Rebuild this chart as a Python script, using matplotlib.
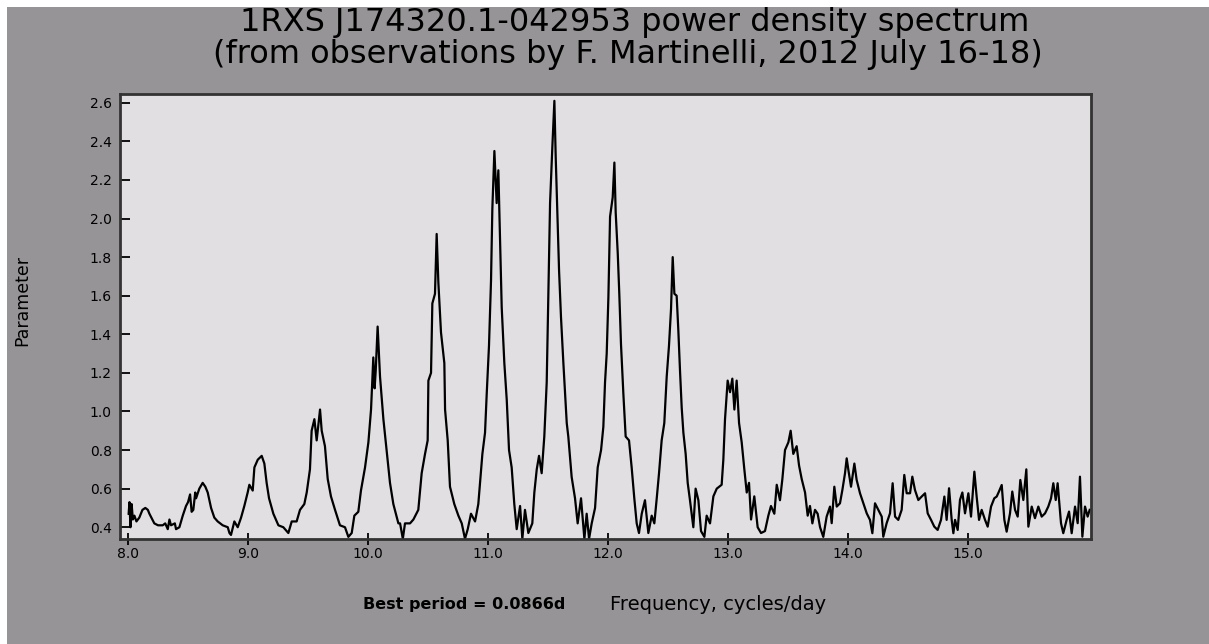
import matplotlib
matplotlib.use("Agg")
import matplotlib.pyplot as plt
from matplotlib.patches import Rectangle

# power spectrum, split by frequency band (freq, power)
band_8_9 = [
    (8.005, 0.47), (8.012, 0.53), (8.020, 0.40), (8.030, 0.52), (8.040, 0.44),
    (8.053, 0.46), (8.070, 0.43), (8.094, 0.45), (8.120, 0.49), (8.144, 0.50),
    (8.165, 0.49), (8.178, 0.47), (8.219, 0.42), (8.250, 0.41), (8.289, 0.41),
    (8.310, 0.42), (8.331, 0.39), (8.345, 0.44), (8.358, 0.41), (8.390, 0.42),
    (8.400, 0.39), (8.428, 0.40), (8.456, 0.46), (8.483, 0.51), (8.500, 0.53),
    (8.517, 0.57), (8.530, 0.48), (8.544, 0.49), (8.560, 0.58), (8.567, 0.55),
    (8.594, 0.60), (8.622, 0.63), (8.644, 0.61), (8.664, 0.58), (8.692, 0.50),
    (8.719, 0.45), (8.747, 0.43), (8.789, 0.41), (8.831, 0.40), (8.845, 0.37),
    (8.858, 0.36), (8.886, 0.43), (8.914, 0.40), (8.942, 0.45), (8.969, 0.51),
    (8.997, 0.58), (9.011, 0.62), (9.039, 0.59), (9.053, 0.71), (9.081, 0.75),
]
band_9_10 = [
    (9.114, 0.77), (9.136, 0.73), (9.155, 0.63), (9.175, 0.55), (9.211, 0.47),
    (9.253, 0.41), (9.294, 0.40), (9.336, 0.37), (9.364, 0.43), (9.405, 0.43),
    (9.433, 0.49), (9.469, 0.52), (9.489, 0.58), (9.516, 0.70), (9.530, 0.90),
    (9.553, 0.96), (9.572, 0.85), (9.600, 1.01), (9.614, 0.90), (9.641, 0.82),
    (9.664, 0.65), (9.691, 0.56), (9.725, 0.49), (9.766, 0.41), (9.808, 0.40),
    (9.836, 0.35), (9.864, 0.37), (9.886, 0.46), (9.919, 0.48), (9.941, 0.59),
    (9.975, 0.71), (10.003, 0.84), (10.025, 1.01), (10.044, 1.28), (10.055, 1.12),
    (10.064, 1.21), (10.080, 1.44), (10.100, 1.18), (10.128, 0.96), (10.155, 0.80),
    (10.183, 0.63), (10.211, 0.52),
]
band_10_11 = [
    (10.253, 0.42), (10.267, 0.42), (10.290, 0.34), (10.308, 0.42), (10.350, 0.42),
    (10.378, 0.44), (10.419, 0.49), (10.447, 0.68), (10.475, 0.78), (10.497, 0.85),
    (10.503, 1.16), (10.525, 1.20), (10.536, 1.56), (10.558, 1.61), (10.572, 1.92),
    (10.586, 1.67), (10.608, 1.41), (10.636, 1.25), (10.642, 1.01), (10.664, 0.85),
    (10.683, 0.61), (10.719, 0.52), (10.753, 0.46), (10.781, 0.42), (10.808, 0.34),
    (10.831, 0.39), (10.858, 0.47), (10.892, 0.43), (10.919, 0.52), (10.953, 0.78),
    (10.975, 0.89), (10.989, 1.09), (11.008, 1.34), (11.025, 1.68), (11.036, 2.05),
    (11.053, 2.35), (11.072, 2.08), (11.086, 2.25), (11.100, 1.89), (11.114, 1.54),
    (11.136, 1.25), (11.156, 1.06), (11.175, 0.80), (11.197, 0.71), (11.219, 0.52),
    (11.239, 0.39), (11.267, 0.51), (11.286, 0.34), (11.308, 0.49), (11.336, 0.37),
    (11.369, 0.42), (11.386, 0.58), (11.406, 0.70), (11.425, 0.77),
]
band_11_12 = [
    (11.447, 0.68), (11.469, 0.87), (11.489, 1.15), (11.503, 1.61), (11.517, 2.08),
    (11.536, 2.37), (11.553, 2.61), (11.564, 2.32), (11.581, 1.96), (11.592, 1.73),
    (11.608, 1.49), (11.628, 1.25), (11.656, 0.94), (11.669, 0.87), (11.697, 0.66),
    (11.725, 0.55), (11.747, 0.42), (11.775, 0.55), (11.803, 0.34), (11.822, 0.47),
    (11.842, 0.34), (11.864, 0.42), (11.892, 0.50), (11.914, 0.71), (11.942, 0.80),
    (11.961, 0.92), (11.975, 1.15), (11.989, 1.30), (12.003, 1.59), (12.017, 2.01),
    (12.039, 2.11), (12.053, 2.29), (12.064, 2.03), (12.081, 1.82), (12.094, 1.61),
    (12.108, 1.35), (12.128, 1.09), (12.147, 0.87), (12.175, 0.85), (12.197, 0.71),
    (12.219, 0.55), (12.239, 0.42), (12.258, 0.37), (12.281, 0.47), (12.308, 0.54),
    (12.336, 0.37), (12.364, 0.46), (12.386, 0.42), (12.406, 0.55), (12.425, 0.68),
    (12.447, 0.85), (12.469, 0.94), (12.489, 1.18), (12.508, 1.34), (12.525, 1.53),
    (12.539, 1.80), (12.553, 1.61),
]
band_12_14 = [
    (12.572, 1.60), (12.586, 1.42), (12.600, 1.21), (12.614, 1.02), (12.628, 0.89),
    (12.647, 0.78), (12.664, 0.63), (12.683, 0.54), (12.711, 0.40), (12.730, 0.60),
    (12.753, 0.54), (12.775, 0.38), (12.803, 0.35), (12.822, 0.46), (12.850, 0.42),
    (12.878, 0.56), (12.906, 0.60), (12.947, 0.62), (12.961, 0.75), (12.975, 0.96),
    (12.997, 1.16), (13.017, 1.10), (13.036, 1.17), (13.053, 1.01), (13.072, 1.16),
    (13.092, 0.94), (13.114, 0.84), (13.136, 0.70), (13.156, 0.58), (13.175, 0.63),
    (13.192, 0.44), (13.219, 0.56), (13.247, 0.40), (13.275, 0.37), (13.308, 0.38),
    (13.336, 0.46), (13.358, 0.51), (13.386, 0.47), (13.406, 0.62), (13.433, 0.54),
    (13.453, 0.65), (13.475, 0.80), (13.503, 0.84), (13.522, 0.90), (13.544, 0.78),
    (13.572, 0.82), (13.592, 0.72), (13.614, 0.65), (13.642, 0.58), (13.664, 0.46),
    (13.683, 0.51), (13.703, 0.42), (13.725, 0.49),
]
band_14_15 = [
    (13.747, 0.47), (13.767, 0.40), (13.794, 0.35), (13.822, 0.455), (13.850, 0.507),
    (13.864, 0.421), (13.886, 0.61), (13.906, 0.507), (13.933, 0.524), (13.953, 0.593),
    (13.975, 0.68), (13.989, 0.757), (14.003, 0.697), (14.025, 0.61), (14.053, 0.73),
    (14.072, 0.645), (14.100, 0.576), (14.128, 0.524), (14.156, 0.472), (14.183, 0.438),
    (14.203, 0.369), (14.225, 0.524), (14.253, 0.49), (14.281, 0.455), (14.294, 0.351),
    (14.322, 0.421), (14.350, 0.472), (14.372, 0.628), (14.392, 0.455), (14.419, 0.438),
    (14.447, 0.49), (14.469, 0.671), (14.489, 0.576), (14.517, 0.576), (14.536, 0.662),
    (14.558, 0.593), (14.586, 0.541), (14.614, 0.559), (14.642, 0.576), (14.664, 0.472),
    (14.692, 0.438), (14.719, 0.403), (14.747, 0.386), (14.775, 0.438), (14.803, 0.559),
    (14.822, 0.438), (14.842, 0.602), (14.864, 0.438), (14.878, 0.369), (14.892, 0.438),
    (14.914, 0.386), (14.933, 0.541),
]
band_15_16 = [
    (14.953, 0.58), (14.975, 0.472), (15.003, 0.576), (15.025, 0.455), (15.053, 0.688),
    (15.072, 0.559), (15.092, 0.438), (15.114, 0.49), (15.142, 0.438), (15.164, 0.403),
    (15.192, 0.507), (15.219, 0.55), (15.239, 0.559), (15.258, 0.585), (15.281, 0.619),
    (15.303, 0.438), (15.322, 0.377), (15.350, 0.472), (15.369, 0.585), (15.392, 0.49),
    (15.414, 0.455), (15.436, 0.645), (15.461, 0.541), (15.486, 0.70), (15.503, 0.403),
    (15.531, 0.507), (15.558, 0.447), (15.586, 0.507), (15.614, 0.455), (15.642, 0.472),
    (15.669, 0.507), (15.692, 0.55), (15.711, 0.628), (15.731, 0.541), (15.747, 0.628),
    (15.775, 0.421), (15.794, 0.369), (15.822, 0.438), (15.842, 0.481), (15.864, 0.369),
    (15.892, 0.507), (15.914, 0.421), (15.933, 0.662), (15.953, 0.351), (15.975, 0.507),
    (15.997, 0.455), (16.014, 0.49),
]

x_ticks = [8.0, 9.0, 10.0, 11.0, 12.0, 13.0, 14.0, 15.0]
y_ticks = [0.4, 0.6, 0.8, 1.0, 1.2, 1.4, 1.6, 1.8, 2.0, 2.2, 2.4, 2.6]

title_1 = "1RXS J174320.1-042953 power density spectrum"
title_2 = "(from observations by F. Martinelli, 2012 July 16-18)"

bands = [band_8_9, band_9_10, band_10_11, band_11_12, band_12_14, band_14_15, band_15_16]
points = [p for band in bands for p in band]
freq = [p[0] for p in points]
power = [p[1] for p in points]

W, H = 1209, 644
fig = plt.figure(figsize=(W / 100, H / 100), dpi=100)
fig.patch.set_facecolor("white")
fig.patches.append(Rectangle((7 / W, 0), 1, 1 - 7 / H, transform=fig.transFigure,
                             facecolor="#969496", edgecolor="none", zorder=-10))

ax = fig.add_axes([120 / W, 1 - 539 / H, (1091 - 120) / W, (539 - 93.5) / H])
ax.set_facecolor("#e1dfe2")
ax.plot(freq, power, color="black", linewidth=1.6)

ax.set_xlim(7.933, 16.025)
ax.set_ylim(0.339, 2.648)
ax.set_xticks(x_ticks)
ax.set_xticklabels([f"{v:.1f}" for v in x_ticks])
ax.set_yticks(y_ticks)
ax.set_yticklabels([f"{v:.1f}" for v in y_ticks])
ax.tick_params(axis="x", direction="inout", length=8, width=1.3, pad=2,
               labelsize=10, colors="black")
ax.tick_params(axis="y", direction="in", length=7, width=1.3, pad=6,
               labelsize=10, colors="black")
for s in ax.spines.values():
    s.set_linewidth(2)
    s.set_color("#333333")

fig.text(635 / W, 1 - 23 / H, title_1, ha="center", va="center", fontsize=23)
fig.text(628 / W, 1 - 54 / H, title_2, ha="center", va="center", fontsize=23)
fig.text(22 / W, 1 - 300 / H, "Parameter", rotation=90, ha="center", va="center", fontsize=12.5)
fig.text(565 / W, 1 - 604 / H, "Best period = 0.0866d", ha="right", va="center",
         fontsize=11.5, fontweight="bold")
fig.text(610 / W, 1 - 604 / H, "Frequency, cycles/day", ha="left", va="center", fontsize=14)

fig.savefig("out.png", dpi=100, facecolor=fig.get_facecolor())
